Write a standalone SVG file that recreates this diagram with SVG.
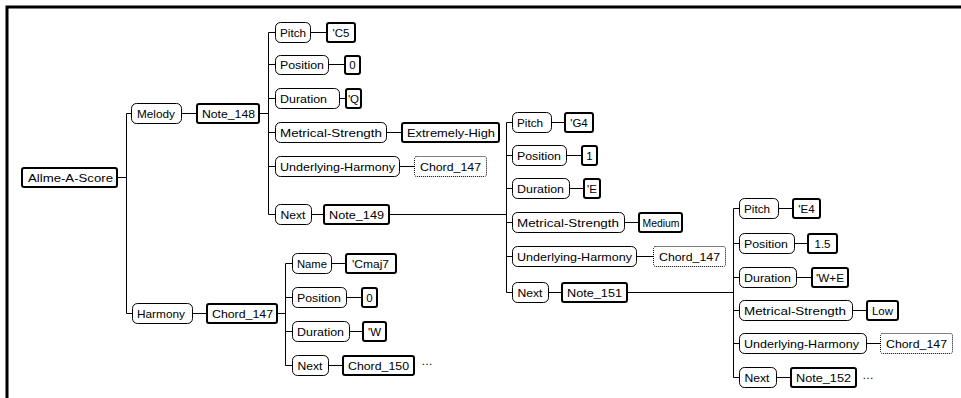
<svg xmlns="http://www.w3.org/2000/svg" width="961" height="398" viewBox="0 0 961 398">
<style>
.p{fill:#fff;stroke:#000;stroke-width:1}
.v{fill:#fff;stroke:#000;stroke-width:2}
.d{fill:#fff;stroke:#000;stroke-width:1;stroke-dasharray:1 1}
text{font-family:"Liberation Sans","DejaVu Sans",sans-serif;font-size:11.5px;fill:#000;text-anchor:start}
.m{text-anchor:middle}
.c{fill:none;stroke:#000;stroke-width:1}
</style>
<rect x="0" y="0" width="961" height="398" fill="#fff"/>
<path d="M7,398V7H961" fill="none" stroke="#000" stroke-width="3"/>
<g id="connectors" class="c">
<path d="M117,177.5H126.5M126.5,113.5V313.5M126.5,113.5H131M126.5,313.5H132"/>
<path d="M182,113.5H197M259,113.5H268.5M268.5,32.5V214.5M268.5,32.5H275M268.5,64.5H275M268.5,98.5H275M268.5,132.5H275M268.5,166.5H275M268.5,214.5H275"/>
<path d="M310,32.5H327M329,64.5H345M340,98.5H346M387,132.5H402M400,166.5H414M312,214.5H324"/>
<path d="M193,313.5H207M277,313.5H285.5M285.5,263.5V365.5M285.5,263.5H292M285.5,297.5H292M285.5,331.5H292M285.5,365.5H292"/>
<path d="M332,263.5H346M347,297.5H362M350,331.5H363M329,365.5H343"/>
<path d="M389,214.5H506.5M506.5,122.5V292.5M506.5,122.5H512M506.5,155.5H512M506.5,188.5H512M506.5,222.5H512M506.5,256.5H512M506.5,292.5H512"/>
<path d="M552,122.5H565M567,155.5H582M570,188.5H584M625,222.5H639M637,256.5H653M549,292.5H562"/>
<path d="M627,292.5H733.5M733.5,208.5V377.5M733.5,208.5H739M733.5,243.5H739M733.5,277.5H739M733.5,310.5H739M733.5,343.5H739M733.5,377.5H739"/>
<path d="M778,208.5H793M795,243.5H808M797,277.5H812M853,310.5H867M867,343.5H880M777,377.5H791"/>
</g>
<g id="root"><rect class="v" x="22" y="168" width="95" height="19" rx="2"/><text x="28" y="181.5" textLength="85" lengthAdjust="spacingAndGlyphs">Allme-A-Score</text></g>
<g id="melody"><rect class="p" x="131.5" y="103.5" width="50" height="20" rx="5"/><text x="137" y="117.5" textLength="38" lengthAdjust="spacingAndGlyphs">Melody</text></g>
<g id="note148"><rect class="v" x="197" y="104" width="62" height="19" rx="2"/><text x="202" y="117.5" textLength="53" lengthAdjust="spacingAndGlyphs">Note_148</text></g>
<g id="pitch1"><rect class="p" x="275.5" y="22.5" width="35" height="20" rx="5"/><text x="280" y="36.5" textLength="26" lengthAdjust="spacingAndGlyphs">Pitch</text></g>
<g id="c5"><rect class="v" x="327" y="23" width="28" height="19" rx="2"/><text class="m" x="341" y="36.5">'C5</text></g>
<g id="pos1"><rect class="p" x="275.5" y="55.5" width="53" height="19" rx="5"/><text x="280" y="69" textLength="44" lengthAdjust="spacingAndGlyphs">Position</text></g>
<g id="pos1v"><rect class="v" x="345" y="56" width="15" height="18" rx="2"/><text class="m" x="352.5" y="69">0</text></g>
<g id="dur1"><rect class="p" x="275.5" y="88.5" width="64" height="20" rx="5"/><text x="280" y="102.5" textLength="47" lengthAdjust="spacingAndGlyphs">Duration</text></g>
<g id="dur1v"><rect class="v" x="346" y="89" width="15" height="19" rx="2"/><text class="m" x="353.5" y="102.5">'Q</text></g>
<g id="ms1"><rect class="p" x="275.5" y="122.5" width="111" height="20" rx="5"/><text x="280" y="136.5" textLength="102" lengthAdjust="spacingAndGlyphs">Metrical-Strength</text></g>
<g id="ms1v"><rect class="v" x="402" y="123" width="97" height="19" rx="2"/><text x="407" y="136.5" textLength="88" lengthAdjust="spacingAndGlyphs">Extremely-High</text></g>
<g id="uh1"><rect class="p" x="275.5" y="156.5" width="124" height="20" rx="5"/><text x="280" y="170.5" textLength="115" lengthAdjust="spacingAndGlyphs">Underlying-Harmony</text></g>
<g id="uh1v"><rect class="d" x="414.5" y="156.5" width="72" height="20" rx="2"/><text x="420" y="170.5" textLength="61" lengthAdjust="spacingAndGlyphs">Chord_147</text></g>
<g id="next1"><rect class="p" x="275.5" y="204.5" width="36" height="20" rx="5"/><text x="280.5" y="218.5" textLength="25" lengthAdjust="spacingAndGlyphs">Next</text></g>
<g id="note149"><rect class="v" x="324" y="205" width="65" height="19" rx="2"/><text x="329" y="218.5" textLength="55" lengthAdjust="spacingAndGlyphs">Note_149</text></g>
<g id="harmony"><rect class="p" x="132.5" y="303.5" width="60" height="20" rx="5"/><text x="137" y="317.5" textLength="48" lengthAdjust="spacingAndGlyphs">Harmony</text></g>
<g id="chord147"><rect class="v" x="207" y="304" width="70" height="19" rx="2"/><text x="212" y="317.5" textLength="61" lengthAdjust="spacingAndGlyphs">Chord_147</text></g>
<g id="name"><rect class="p" x="292.5" y="253.5" width="39" height="20" rx="5"/><text x="297" y="267.5" textLength="30" lengthAdjust="spacingAndGlyphs">Name</text></g>
<g id="namev"><rect class="v" x="346" y="254" width="50" height="19" rx="2"/><text x="352" y="267.5" textLength="37" lengthAdjust="spacingAndGlyphs">'Cmaj7</text></g>
<g id="pos2"><rect class="p" x="292.5" y="287.5" width="54" height="20" rx="5"/><text x="297" y="301.5" textLength="44" lengthAdjust="spacingAndGlyphs">Position</text></g>
<g id="pos2v"><rect class="v" x="362" y="288" width="15" height="19" rx="2"/><text class="m" x="369.5" y="301.5">0</text></g>
<g id="dur2"><rect class="p" x="292.5" y="321.5" width="57" height="20" rx="5"/><text x="297" y="335.5" textLength="47" lengthAdjust="spacingAndGlyphs">Duration</text></g>
<g id="dur2v"><rect class="v" x="363" y="322" width="23" height="19" rx="2"/><text class="m" x="374.5" y="335.5">'W</text></g>
<g id="next2"><rect class="p" x="292.5" y="355.5" width="36" height="20" rx="5"/><text x="297.5" y="369.5" textLength="25" lengthAdjust="spacingAndGlyphs">Next</text></g>
<g id="chord150"><rect class="v" x="343" y="356" width="71" height="19" rx="2"/><text x="348" y="369.5" textLength="61" lengthAdjust="spacingAndGlyphs">Chord_150</text><text class="m" x="427" y="364.5">…</text></g>
<g id="pitch2"><rect class="p" x="512.5" y="112.5" width="39" height="20" rx="5"/><text x="517" y="126.5" textLength="26" lengthAdjust="spacingAndGlyphs">Pitch</text></g>
<g id="pitch2v"><rect class="v" x="565" y="113" width="28" height="19" rx="2"/><text class="m" x="579" y="126.5">'G4</text></g>
<g id="pos3"><rect class="p" x="512.5" y="145.5" width="54" height="20" rx="5"/><text x="517" y="159.5" textLength="44" lengthAdjust="spacingAndGlyphs">Position</text></g>
<g id="pos3v"><rect class="v" x="582" y="146" width="15" height="19" rx="2"/><text class="m" x="589.5" y="159.5">1</text></g>
<g id="dur3"><rect class="p" x="512.5" y="178.5" width="57" height="20" rx="5"/><text x="517" y="192.5" textLength="47" lengthAdjust="spacingAndGlyphs">Duration</text></g>
<g id="dur3v"><rect class="v" x="584" y="179" width="16" height="19" rx="2"/><text class="m" x="592" y="192.5">'E</text></g>
<g id="ms2"><rect class="p" x="512.5" y="212.5" width="112" height="20" rx="5"/><text x="517" y="226.5" textLength="102" lengthAdjust="spacingAndGlyphs">Metrical-Strength</text></g>
<g id="ms2v"><rect class="v" x="639" y="213" width="43" height="19" rx="2"/><text x="642.5" y="226.5" textLength="37" lengthAdjust="spacingAndGlyphs">Medium</text></g>
<g id="uh2"><rect class="p" x="512.5" y="246.5" width="124" height="20" rx="5"/><text x="517" y="260.5" textLength="115" lengthAdjust="spacingAndGlyphs">Underlying-Harmony</text></g>
<g id="uh2v"><rect class="d" x="653.5" y="246.5" width="72" height="20" rx="2"/><text x="659" y="260.5" textLength="61" lengthAdjust="spacingAndGlyphs">Chord_147</text></g>
<g id="next3"><rect class="p" x="512.5" y="282.5" width="36" height="20" rx="5"/><text x="517.5" y="296.5" textLength="25" lengthAdjust="spacingAndGlyphs">Next</text></g>
<g id="note151"><rect class="v" x="562" y="283" width="65" height="19" rx="2"/><text x="567" y="296.5" textLength="55" lengthAdjust="spacingAndGlyphs">Note_151</text></g>
<g id="pitch3"><rect class="p" x="739.5" y="198.5" width="39" height="20" rx="5"/><text x="744" y="212.5" textLength="26" lengthAdjust="spacingAndGlyphs">Pitch</text></g>
<g id="pitch3v"><rect class="v" x="793" y="199" width="27" height="19" rx="2"/><text class="m" x="806.5" y="212.5">'E4</text></g>
<g id="pos4"><rect class="p" x="739.5" y="233.5" width="55" height="20" rx="5"/><text x="744" y="247.5" textLength="44" lengthAdjust="spacingAndGlyphs">Position</text></g>
<g id="pos4v"><rect class="v" x="808" y="234" width="29" height="19" rx="2"/><text class="m" x="822.5" y="247.5">1.5</text></g>
<g id="dur4"><rect class="p" x="739.5" y="267.5" width="57" height="20" rx="5"/><text x="744" y="281.5" textLength="47" lengthAdjust="spacingAndGlyphs">Duration</text></g>
<g id="dur4v"><rect class="v" x="812" y="268" width="36" height="19" rx="2"/><text x="816" y="281.5" textLength="28" lengthAdjust="spacingAndGlyphs">'W+E</text></g>
<g id="ms3"><rect class="p" x="739.5" y="300.5" width="113" height="20" rx="5"/><text x="744" y="314.5" textLength="102" lengthAdjust="spacingAndGlyphs">Metrical-Strength</text></g>
<g id="ms3v"><rect class="v" x="867" y="301" width="31" height="19" rx="2"/><text class="m" x="882.5" y="314.5">Low</text></g>
<g id="uh3"><rect class="p" x="739.5" y="333.5" width="127" height="20" rx="5"/><text x="744" y="347.5" textLength="115" lengthAdjust="spacingAndGlyphs">Underlying-Harmony</text></g>
<g id="uh3v"><rect class="d" x="880.5" y="333.5" width="72" height="20" rx="2"/><text x="886" y="347.5" textLength="61" lengthAdjust="spacingAndGlyphs">Chord_147</text></g>
<g id="next4"><rect class="p" x="739.5" y="367.5" width="37" height="20" rx="5"/><text x="744.5" y="381.5" textLength="25" lengthAdjust="spacingAndGlyphs">Next</text></g>
<g id="note152"><rect class="v" x="791" y="368" width="65" height="19" rx="2"/><text x="796" y="381.5" textLength="55" lengthAdjust="spacingAndGlyphs">Note_152</text><text class="m" x="868" y="378.5">…</text></g>
</svg>
